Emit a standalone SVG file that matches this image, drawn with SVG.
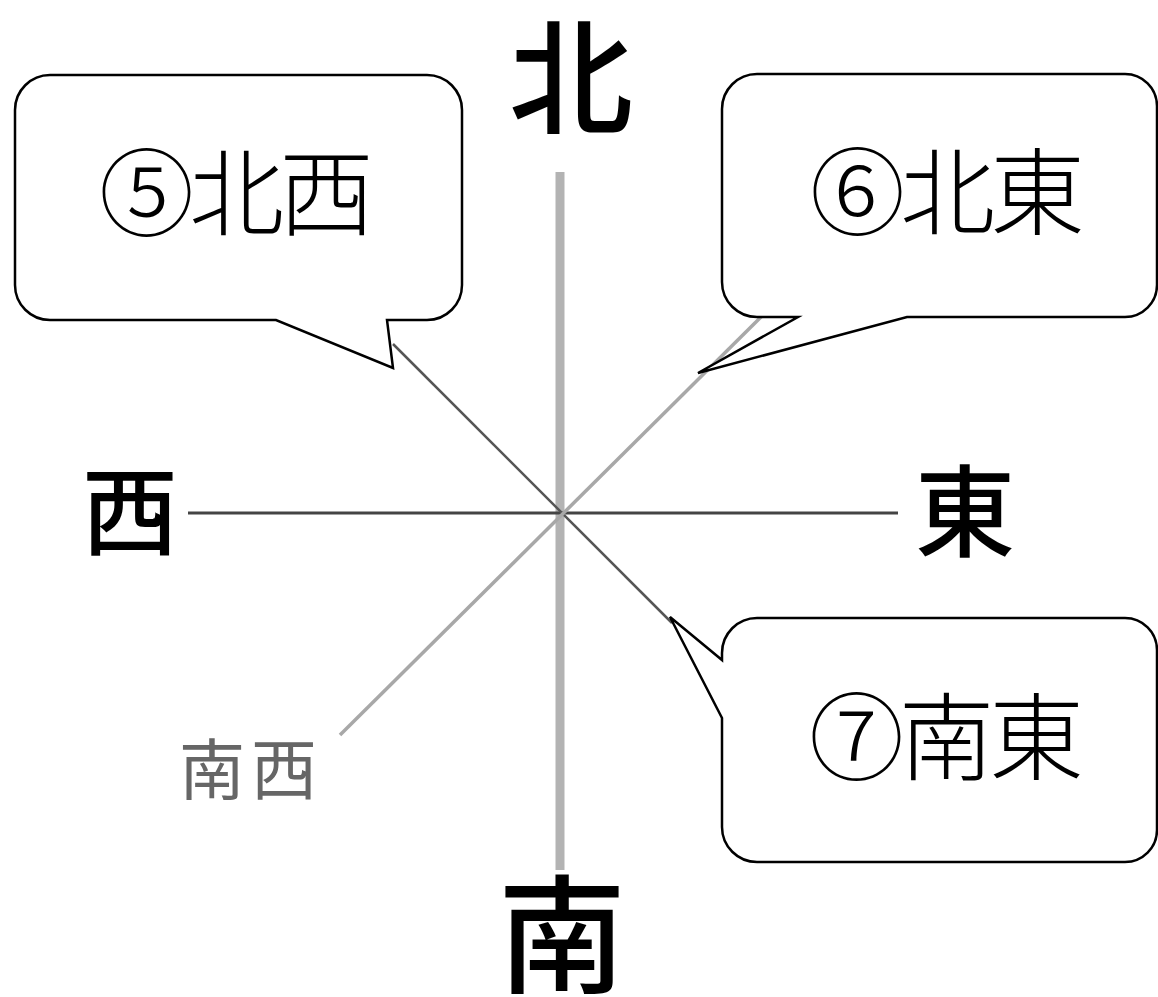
<svg xmlns="http://www.w3.org/2000/svg" width="1158" height="997" viewBox="0 0 1158 997">
<style>
.bubble{fill:#fff;stroke:#000;stroke-width:2.5;stroke-linejoin:miter}
.ctext{font-family:"Noto Sans CJK JP","Noto Sans",sans-serif;font-weight:300;font-size:95px;fill:#000;text-anchor:middle;letter-spacing:-5px}
.dir{font-family:"Noto Sans CJK JP",sans-serif;font-weight:500;fill:#000;text-anchor:middle}
</style>
<rect width="1158" height="997" fill="#fff"/>
<g id="connectors">
<line x1="560" y1="172" x2="560" y2="870" stroke="#b3b3b3" stroke-width="9"/>
<line x1="188" y1="513" x2="898" y2="513" stroke="#444" stroke-width="3"/>
<line x1="393" y1="344" x2="672" y2="623" stroke="#555" stroke-width="2.5"/>
<line x1="340" y1="735" x2="762" y2="316" stroke="#a8a8a8" stroke-width="3.5"/>
</g>
<g id="north"><text class="dir" x="571" y="124" font-size="124">北</text></g>
<g id="south"><text class="dir" x="562" y="983" font-size="128">南</text></g>
<g id="west"><text class="dir" x="130" y="547" font-size="96">西</text></g>
<g id="east"><text class="dir" x="965" y="549" font-size="100">東</text></g>
<g id="southwest"><text x="251" y="794" font-family="'Noto Sans CJK JP',sans-serif" font-size="66" fill="#666" text-anchor="middle" letter-spacing="6">南西</text></g>
<g id="callout-nw">
<path class="bubble" d="M50,75 H427 A35,35 0 0 1 462,110 V285 A35,35 0 0 1 427,320 H387 L393,368 L276,320 H50 A35,35 0 0 1 15,285 V110 A35,35 0 0 1 50,75 Z"/>
<text class="ctext" x="234" y="229">⑤北西</text>
</g>
<g id="callout-ne">
<path class="bubble" d="M757,74 H1125 A32,32 0 0 1 1157,106 V285 A32,32 0 0 1 1125,317 H907 L698,373 L798,317 H757 A35,35 0 0 1 722,282 V109 A35,35 0 0 1 757,74 Z"/>
<text class="ctext" x="945" y="228">⑥北東</text>
</g>
<g id="callout-se">
<path class="bubble" d="M757,618 H1125 A32,32 0 0 1 1157,650 V830 A32,32 0 0 1 1125,862 H757 A35,35 0 0 1 722,827 V718 L670,617 L722,660 V653 A35,35 0 0 1 757,618 Z"/>
<text class="ctext" x="944" y="773">⑦南東</text>
</g>
</svg>
